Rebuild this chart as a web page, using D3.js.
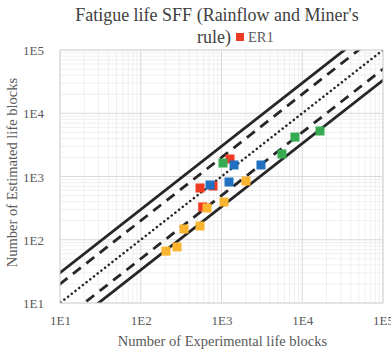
<!DOCTYPE html>
<html>
<head>
<meta charset="utf-8">
<script src="https://cdn.jsdelivr.net/npm/d3@7"></script>
<style>
  body { margin: 0; background: #fff; }
  svg { display: block; }
  text { font-family: "Liberation Serif", "DejaVu Serif", serif; fill: #595959; }
</style>
</head>
<body>
<svg id="chart" width="391" height="349"></svg>
<script>
// experimental vs estimated life blocks, per series
var redX = [542, 785, 1274, 585],
    redY = [658, 708, 1892, 330],
    blueX = [721, 1239, 1429, 3083],
    blueY = [734, 818, 1520, 1520],
    greenX = [1045, 5610, 8130, 16600],
    greenY = [1633, 2270, 4200, 5240],
    orangeX = [205, 281, 343, 542, 661, 1074, 2010],
    orangeY = [66, 77, 148, 165, 318, 395, 849];

// scatter bands: estimated = factor * experimental
var bandFactors = [3, 2, 1, 1 / 2, 1 / 3],
    bandStyles = ["solid", "dash", "dot", "dash", "solid"],
    domain = [10, 100000],
    tickValues = [10, 100, 1000, 10000, 100000],
    tickLabels = ["1E1", "1E2", "1E3", "1E4", "1E5"];

(function () {
    var svg = d3.select("#chart"),
        pl = 60, pr = 383, pt = 50, pb = 303,
        x = d3.scaleLog().domain(domain).range([pl, pr]),
        y = d3.scaleLog().domain(domain).range([pb, pt]),
        size = 9;

    function minorTicks() {
        var out = [], d, k;
        for (d = 10; d < 100000; d *= 10) {
            for (k = 2; k <= 9; k += 1) {
                out.push(d * k);
            }
        }
        return out;
    }

    var grid = svg.append("g");
    grid.selectAll("line.vminor").data(minorTicks()).enter().append("line")
        .attr("x1", function (d) { return x(d); }).attr("x2", function (d) { return x(d); })
        .attr("y1", pt).attr("y2", pb)
        .style("stroke", "#efefef").style("stroke-width", 1);
    grid.selectAll("line.hminor").data(minorTicks()).enter().append("line")
        .attr("y1", function (d) { return y(d); }).attr("y2", function (d) { return y(d); })
        .attr("x1", pl).attr("x2", pr)
        .style("stroke", "#efefef").style("stroke-width", 1);
    grid.selectAll("line.vmajor").data(tickValues).enter().append("line")
        .attr("x1", function (d) { return x(d); }).attr("x2", function (d) { return x(d); })
        .attr("y1", pt).attr("y2", pb)
        .style("stroke", "#d9d9d9").style("stroke-width", 1);
    grid.selectAll("line.hmajor").data(tickValues).enter().append("line")
        .attr("y1", function (d) { return y(d); }).attr("y2", function (d) { return y(d); })
        .attr("x1", pl).attr("x2", pr)
        .style("stroke", "#d9d9d9").style("stroke-width", 1);

    svg.append("clipPath").attr("id", "plot-clip")
        .append("rect").attr("x", pl).attr("y", pt)
        .attr("width", pr - pl).attr("height", pb - pt);

    var line = d3.line()
        .x(function (d) { return x(d[0]); })
        .y(function (d) { return y(d[1]); });

    svg.append("g").attr("clip-path", "url(#plot-clip)")
        .selectAll("path").data(bandFactors).enter().append("path")
        .attr("d", function (f) {
            return line([[domain[0] / 10, domain[0] / 10 * f], [domain[1] * 10, domain[1] * 10 * f]]);
        })
        .style("fill", "none")
        .style("stroke", "#262626")
        .style("stroke-width", function (f, i) { return bandStyles[i] === "dot" ? 2.5 : 2.8; })
        .style("stroke-linecap", function (f, i) { return bandStyles[i] === "dot" ? "round" : "butt"; })
        .style("stroke-dasharray", function (f, i) {
            if (bandStyles[i] === "dash") { return "10,7"; }
            if (bandStyles[i] === "dot") { return "0.1,4.6"; }
            return "";
        });

    // ER1 first, the rest drawn over it
    var series = [
        { xs: redX, ys: redY, color: "#ef3b24" },
        { xs: blueX, ys: blueY, color: "#2170c1" },
        { xs: greenX, ys: greenY, color: "#35aa50" },
        { xs: orangeX, ys: orangeY, color: "#fbb430" }
    ];
    series.forEach(function (s) {
        svg.append("g").selectAll("rect").data(s.xs).enter().append("rect")
            .attr("x", function (d) { return x(d) - size / 2; })
            .attr("y", function (d, i) { return y(s.ys[i]) - size / 2; })
            .attr("width", size).attr("height", size)
            .style("fill", s.color);
    });

    // plot border
    svg.append("rect").attr("x", pl).attr("y", pt)
        .attr("width", pr - pl).attr("height", pb - pt)
        .style("fill", "none").style("stroke", "#d9d9d9");

    var xAxis = d3.axisBottom(x).tickValues(tickValues).tickSize(0)
        .tickFormat(function (d, i) { return tickLabels[i]; });
    var yAxis = d3.axisLeft(y).tickValues(tickValues).tickSize(0)
        .tickFormat(function (d, i) { return tickLabels[i]; });

    var gx = svg.append("g").attr("transform", "translate(0," + pb + ")").call(xAxis);
    var gy = svg.append("g").attr("transform", "translate(" + pl + ",0)").call(yAxis);
    [gx, gy].forEach(function (g) {
        g.attr("font-family", null).attr("font-size", null);
        g.select(".domain").remove();
        g.selectAll("text").attr("fill", null).style("font-size", "13px");
    });
    gx.selectAll("text").attr("dy", "1.45em");
    gy.selectAll("text").attr("x", -16).attr("dy", "0.35em");

    svg.append("text")
        .attr("x", (pl + pr) / 2 + 1).attr("y", 346)
        .attr("text-anchor", "middle")
        .style("font-size", "14.5px")
        .text("Number of Experimental life blocks");

    svg.append("text")
        .attr("transform", "translate(17," + ((pt + pb) / 2 - 4) + ") rotate(-90)")
        .attr("text-anchor", "middle")
        .style("font-size", "14.5px")
        .text("Number of Estimated life blocks");

    svg.append("text")
        .attr("x", 217).attr("y", 21)
        .attr("text-anchor", "middle")
        .style("font-size", "18px").style("fill", "#404040")
        .text("Fatigue life SFF (Rainflow and Miner's");

    svg.append("text")
        .attr("x", 197).attr("y", 43)
        .style("font-size", "18px").style("fill", "#404040")
        .text("rule)");

    // legend (only ER1 visible)
    var legX = 236;
    svg.append("rect").attr("x", legX).attr("y", 33).attr("width", 8).attr("height", 8)
        .style("fill", "#ef3b24");
    svg.append("text").attr("x", legX + 12).attr("y", 42)
        .style("font-size", "14.5px")
        .text("ER1");
}());
</script>
</body>
</html>
